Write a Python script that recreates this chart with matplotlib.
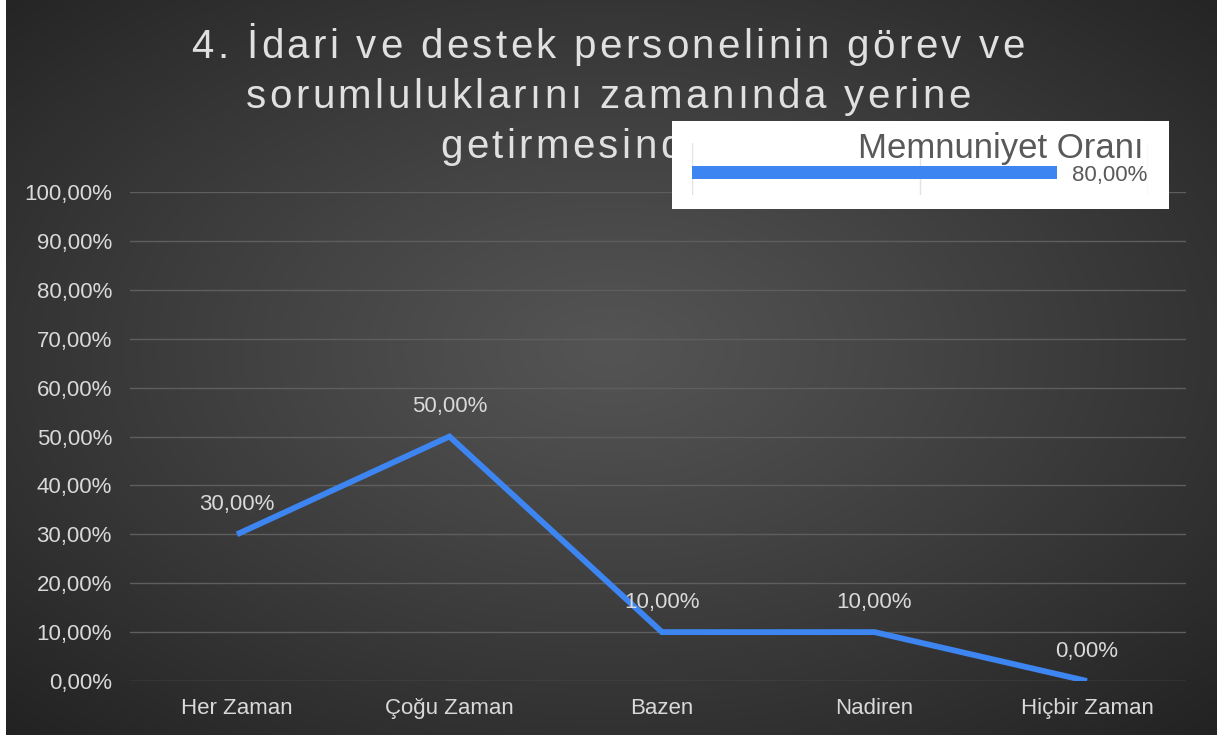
"""Line chart: 4. İdari ve destek personeli - memnuniyet (dark Excel style)."""

import matplotlib

matplotlib.use("Agg")
import matplotlib.pyplot as plt  # noqa: E402
import numpy as np  # noqa: E402
from matplotlib.font_manager import FontProperties  # noqa: E402
from matplotlib.textpath import TextToPath  # noqa: E402

categories = ["Her Zaman", "Çoğu Zaman", "Bazen", "Nadiren", "Hiçbir Zaman"]
values = [0.30, 0.50, 0.10, 0.10, 0.00]
y_ticks = [0.0, 0.1, 0.2, 0.3, 0.4, 0.5, 0.6, 0.7, 0.8, 0.9, 1.0]

title_lines = [
    "4. İdari ve destek personelinin görev ve",
    "sorumluluklarını zamanında yerine",
    "getirmesinden",
]

legend_label = "Memnuniyet Oranı"
satisfaction = 0.80

W, H, DPI = 1217, 737, 100
FONT = "Liberation Sans"
BLUE = "#3d85f0"
LIGHT = "#d9d9d9"


def pct(v):
    return f"{v * 100:.2f}%".replace(".", ",")


def fx(px):
    return px / W


def fy(py):
    return 1 - py / H


def spaced_text(fig, x_px, y_px, text, size, spacing_px, align="center", **kw):
    """Draw text char by char so the letter spacing can be widened."""
    prop = FontProperties(family=FONT, size=size)
    ttp = TextToPath()
    base = ttp.get_text_width_height_descent("||", prop, ismath=False)[0]
    widths = []
    for ch in text:
        w = ttp.get_text_width_height_descent("|" + ch + "|", prop, ismath=False)[0]
        widths.append((w - base) * DPI / 72)
    total = sum(widths) + spacing_px * (len(text) - 1)
    x = x_px - total / 2 if align == "center" else x_px
    for ch, w in zip(text, widths):
        fig.text(fx(x), fy(y_px), ch, fontproperties=prop, va="baseline", ha="left", **kw)
        x += w + spacing_px


fig = plt.figure(figsize=(W / DPI, H / DPI), dpi=DPI, facecolor="white")

# dark radial gradient background
bg = fig.add_axes([fx(6), 2 / H, 1 - fx(6), 1 - 2 / H], zorder=-10)
gx, gy = np.meshgrid(np.linspace(-1, 1, 400), np.linspace(-1, 1, 250))
r = np.sqrt(gx ** 2 + (gy + 0.05) ** 2) / np.sqrt(2)
shade = np.clip(0.33 - 0.19 * r ** 1.1, 0, 1)
bg.imshow(np.dstack([shade, shade, shade]), aspect="auto", extent=[0, 1, 0, 1])
bg.set_axis_off()

# main line chart
ax = fig.add_axes([fx(130), fy(681), fx(1186) - fx(130), fy(192) - fy(681)])
ax.set_facecolor("none")
x = np.arange(len(categories))
ax.plot(x, values, color=BLUE, lw=4.2, solid_capstyle="butt", solid_joinstyle="miter", zorder=3)
for xi, v in zip(x, values):
    ax.annotate(pct(v), (xi, v), xytext=(0, 14), textcoords="offset points",
                ha="center", va="bottom", color=LIGHT, fontsize=16, family=FONT)

ax.set_xlim(-0.5035, 4.466)
ax.set_ylim(0, 1)
ax.set_yticks(y_ticks)
ax.set_yticklabels([pct(v) for v in y_ticks])
ax.set_xticks(x)
ax.set_xticklabels(categories)
ax.tick_params(axis="y", length=0, pad=13, labelsize=16, labelcolor=LIGHT)
ax.tick_params(axis="x", length=0, pad=12, labelsize=16, labelcolor=LIGHT)
for lbl in ax.get_xticklabels() + ax.get_yticklabels():
    lbl.set_family(FONT)
ax.grid(axis="y", color="#5e5e5e", lw=1)
ax.set_axisbelow(True)
for s in ax.spines.values():
    s.set_visible(False)

# title with slightly widened letter spacing
spaced_text(fig, 608, 58, title_lines[0], 29, 3.4, color="#e0e0e0")
spaced_text(fig, 608, 108, title_lines[1], 29, 3.4, color="#e0e0e0")
spaced_text(fig, 440, 158, title_lines[2], 29, 3.4, align="left", color="#e0e0e0")

# white "legend" panel with the satisfaction bar
box = fig.add_axes([fx(672), fy(209), fx(1169) - fx(672), fy(121) - fy(209)], zorder=10)
box.set_facecolor("white")
box.set_xticks([])
box.set_yticks([])
for s in box.spines.values():
    s.set_visible(False)

inner = fig.add_axes([fx(692), fy(195), fx(1148) - fx(692), fy(143) - fy(195)], zorder=11)
inner.set_facecolor("none")
inner.barh([0], [satisfaction], height=0.25, color=BLUE, zorder=3)
inner.set_xlim(0, 1)
inner.set_ylim(-0.433, 0.567)
inner.set_xticks([0, 0.5, 1.0])
inner.set_yticks([])
inner.tick_params(length=0, labelbottom=False)
inner.grid(axis="x", color="#e4e4e4", lw=1)
for s in inner.spines.values():
    s.set_visible(False)
inner.annotate(pct(satisfaction), (satisfaction, 0), xytext=(11, -2), textcoords="offset points",
               ha="left", va="center", color="#595959", fontsize=16, family=FONT)
fig.text(fx(1143), fy(158), legend_label, ha="right", va="baseline",
         color="#595959", fontsize=25, family=FONT, zorder=12)

fig.savefig("out.png", dpi=DPI)
